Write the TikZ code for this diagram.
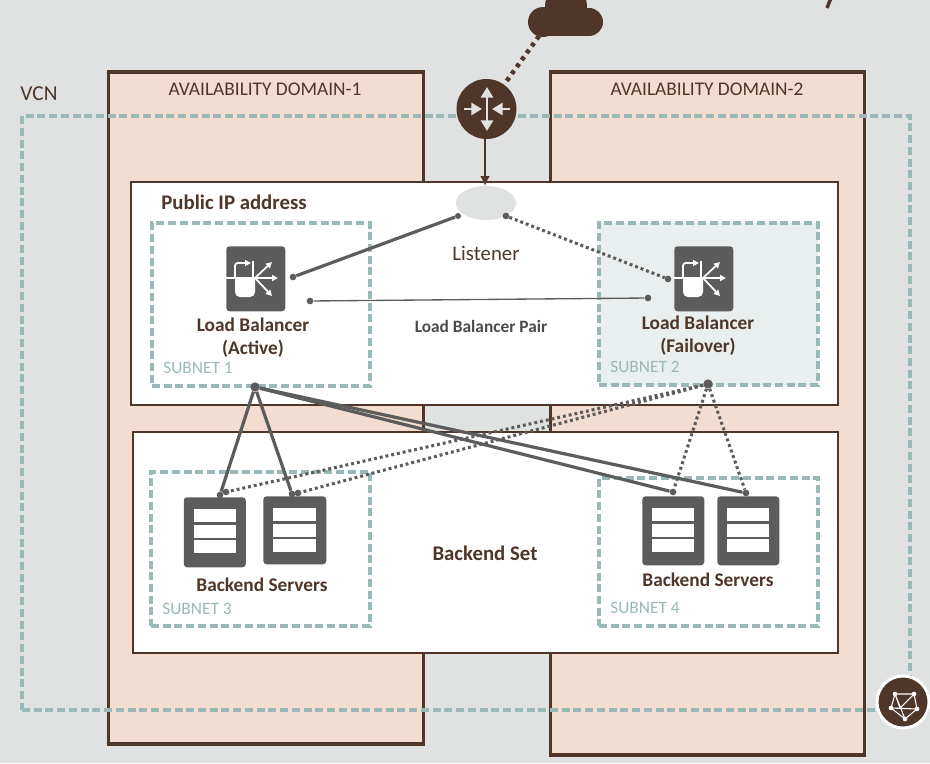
\documentclass[tikz,border=0pt]{standalone}
\usepackage{fontspec}
\setmainfont{Carlito}
\usetikzlibrary{arrows.meta,shapes.geometric}
\definecolor{bggray}{HTML}{E0E2E1}
\definecolor{adfill}{HTML}{F3DDD0}
\definecolor{brownish}{HTML}{4F3629}
\definecolor{vcnteal}{HTML}{9BB8B8}
\definecolor{icongray}{HTML}{5C5C5C}
\definecolor{failfill}{HTML}{E9EEEE}
\tikzset{
	sized/.style 2 args={minimum width=#1*0.75pt,minimum height=#2*0.75pt,inner sep=0pt},
	adbox/.style={draw=brownish,line width=2.6pt,fill=adfill},
	whitebox/.style={draw=brownish,line width=1.2pt,fill=white},
	subnetbox/.style={draw=vcnteal,line width=2.3pt,dash pattern=on 6pt off 2.8pt},
	iconbox/.style={fill=icongray,rounded corners=2.5pt},
	boldtext/.style={text=brownish,font=\fontsize{14.5}{17}\selectfont\bfseries,align=center},
	plaintext/.style={text=brownish,font=\fontsize{14.5}{17}\selectfont},
	subnettext/.style={text=vcnteal,font=\fontsize{13}{15}\selectfont},
	dot/.style={circle,fill=icongray,inner sep=0pt,minimum size=#1},
	dot/.default=5pt,
	solidlink/.style={draw=icongray,line width=2.4pt},
	dottedlink/.style={draw=icongray,line width=2.3pt,dash pattern=on 2.2pt off 2.2pt},
}
\begin{document}
\begin{tikzpicture}[x=0.75pt,y=-0.75pt,>=latex]
\useasboundingbox[fill=bggray] (0,0) rectangle (930,763);
% availability domains and vcn
\node[adbox,sized={315}{672}] (ad1) at (266,408) {};
\node[adbox,sized={314}{683}] (ad2) at (707.5,413.5) {};
\node[subnetbox,sized={888}{594}] (vcn) at (466,413) {};
\node[whitebox,sized={707}{223}] (pubbox) at (484.5,293.5) {};
\node[whitebox,sized={705}{221}] (backbox) at (485.5,542.5) {};
\node[subnetbox,sized={218}{163}] (subnet1) at (261,304.5) {};
\node[subnetbox,fill=failfill,sized={219}{162}] (subnet2) at (708.5,304) {};
\node[subnetbox,sized={219}{154}] (subnet3) at (260.5,549) {};
\node[subnetbox,sized={219}{148}] (subnet4) at (708.5,552) {};
% cloud
\fill[brownish] (543,22) circle[radius=15];
\fill[brownish] (589,22) circle[radius=14];
\fill[brownish] (566,6) circle[radius=21];
\fill[brownish] (543,14) rectangle (589,36.5);
\draw[brownish,line width=2.6pt] (831,-2) -- (827,8);
% router
\node[circle,fill=brownish,sized={60}{60}] (router) at (486.5,109) {};
\node[ellipse,fill=bggray,sized={60}{34}] (listener) at (486,203) {};
\coordinate (cloudend) at (539,36);
\draw[brownish,line width=3.4pt,dash pattern=on 3pt off 3.4pt] (cloudend) -- (router);
\draw[-{Latex[length=7.5pt,width=7.5pt]},brownish,line width=1.6pt] (485,139) -- (485,186);
\def\routerarrow#1#2#3#4{
	\draw[-{Triangle[length=8pt,width=9pt]},bggray,line width=2pt] (#1,#2) -- (#3,#4);
}
\routerarrow{487}{109}{487}{87}
\routerarrow{487}{109}{487}{131}
\routerarrow{464}{109}{482}{109}
\routerarrow{510}{109}{492}{109}
% load balancer icon
\def\lbicon#1#2#3{
	\node[iconbox,sized={59}{65},anchor=north west] (#3) at (#1,#2) {};
	\begin{scope}[shift={(#1,#2)},white,line width=1.3pt,>={Triangle[length=4.5pt,width=4.5pt]}]
		\fill (9,32) -- (29,32) -- (29,46) arc[start angle=0,end angle=90,radius=5]
			-- (14,51) arc[start angle=90,end angle=180,radius=5] -- cycle;
		\draw (0,32) -- (29,32);
		\draw[->,rounded corners=2pt] (9,32) -- (9,17) -- (25,17);
		\draw (27,15) -- (27,32);
		\draw[->] (29,32) -- (52,32);
		\draw[->] (29,32) -- (46,16);
		\draw[->] (29,32) -- (46,50);
	\end{scope}
}
\lbicon{226}{246}{lbactive}
\lbicon{674}{246}{lbfail}
% server icon
\def\srvicon#1#2#3#4#5{
	\node[iconbox,sized={#3}{#4},anchor=north west] (#5) at (#1,#2) {};
	\foreach \row in {0,1,2}
		\fill[white] ({#1+10},{#2+12+\row*15.5}) rectangle ({#1+#3-10},{#2+25+\row*15.5});
}
\srvicon{183.5}{497}{62}{70}{srv1}
\srvicon{263}{496}{63}{68}{srv2}
\srvicon{642}{496}{62}{69}{srv3}
\srvicon{717}{496}{62}{69}{srv4}
% connectors
\node[dot] (lbout) at (293,277) {};
\node[dot] (pairA) at (310,301) {};
\node[dot] (pairB) at (648,298) {};
\node[dot] (lbin) at (668,279) {};
\node[dot=4.5pt] (lisA) at (458,216) {};
\node[dot=5pt] (lisB) at (506,216) {};
\node[dot=7pt] (hubA) at (255,387) {};
\node[dot=7pt] (hubB) at (708,384) {};
\node[dot] (endA) at (220,495) {};
\node[dot] (endB) at (292,494) {};
\node[dot] (endC) at (226,492) {};
\node[dot] (endD) at (298,493) {};
\node[dot] (endE) at (673,492) {};
\node[dot] (endF) at (746,493) {};
\draw[solidlink] (lbout) -- (lisA);
\draw[dottedlink] (lisB) -- (lbin);
\draw[draw=icongray,line width=1pt] (pairA) -- (pairB);
\foreach \e in {endA,endB,endE,endF}
	\draw[solidlink] (hubA) -- (\e);
\foreach \e in {endC,endD,endE,endF}
	\draw[dottedlink] (hubB) -- (\e);
% vcn icon
\node[circle,draw=white,line width=2.2pt,fill=brownish,sized={52}{52}] (vcnicon) at (903,702) {};
\begin{scope}[shift={(903,702)},white,line width=0.8pt]
	\draw (-8,-8) -- (11,-8) -- (14,7) -- (2,17) -- (-12,6) -- cycle;
	\draw (-8,-8) -- (2,17) (11,-8) -- (-3,6) (-12,6) -- (14,7) (-8,-8) -- (-3,6);
	\foreach \px/\py in {-8/-8,11/-8,14/7,2/17,-12/6}
		\fill (\px,\py) circle[radius=2.3];
\end{scope}
% labels
\node[text=brownish,font=\fontsize{16}{18}\selectfont] (vcnlabel) at (39,94) {VCN};
\node[plaintext] (ad1label) at (265,89) {AVAILABILITY DOMAIN-1};
\node[plaintext] (ad2label) at (707,89) {AVAILABILITY DOMAIN-2};
\node[boldtext,font=\fontsize{15.6}{18}\selectfont\bfseries] (iplabel) at (234,202) {Public IP address};
\node[plaintext,font=\fontsize{15.6}{18}\selectfont] (lislabel) at (486,253) {Listener};
\node[boldtext,text=icongray!80!black,font=\fontsize{13}{15}\selectfont\bfseries] (pairlabel) at (481,326) {Load Balancer Pair};
\node[boldtext] (activelabel) at (253,337.5) {Load Balancer\\(Active)};
\node[boldtext] (faillabel) at (698,335.5) {Load Balancer\\(Failover)};
\node[boldtext,font=\fontsize{15.6}{18}\selectfont\bfseries] (setlabel) at (485,553) {Backend Set};
\node[boldtext] (srvlabelA) at (262,585) {Backend Servers};
\node[boldtext] (srvlabelB) at (708,580) {Backend Servers};
\node[subnettext] (sub1label) at (198,368) {SUBNET 1};
\node[subnettext] (sub2label) at (645,367) {SUBNET 2};
\node[subnettext] (sub3label) at (197,609) {SUBNET 3};
\node[subnettext] (sub4label) at (645,608) {SUBNET 4};
\end{tikzpicture}
\end{document}
